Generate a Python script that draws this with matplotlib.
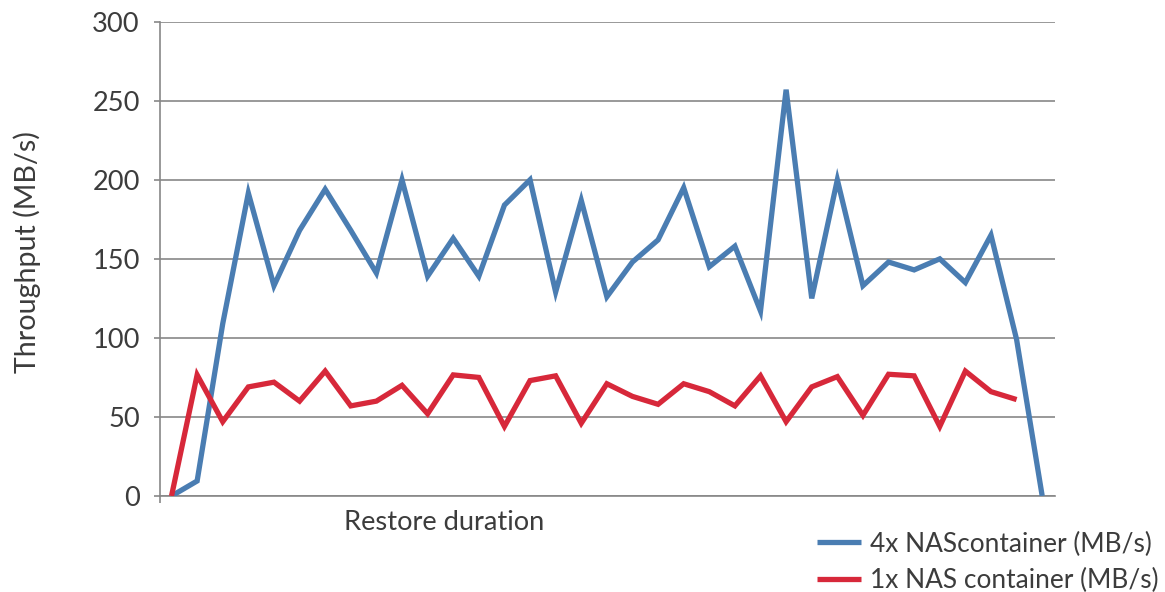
import matplotlib
matplotlib.use("Agg")
import matplotlib.pyplot as plt
from matplotlib.lines import Line2D

# Throughput samples over the restore run (MB/s)
nas4_throughput = [0, 9.5, 109, 191.6, 133, 168, 194, 168, 141, 200, 139, 163, 139,
                   184, 200, 129, 187, 126, 148, 162, 195, 145, 158, 117, 257, 125,
                   200, 133, 148, 143, 150, 135, 165, 99, 0]
nas1_throughput = [0, 76.6, 47, 69, 72, 60, 79, 57, 60, 70, 52, 76.6, 75, 44, 73, 76,
                   46, 71, 63, 58, 71, 66, 57, 76, 47, 69, 75.5, 51, 77, 76, 44, 79,
                   66, 61]
series_labels = ["4x NAScontainer (MB/s)", "1x NAS container (MB/s)"]
y_ticks = [0, 50, 100, 150, 200, 250, 300]

BLUE = "#4A7DB2"
RED = "#D7283A"
GRID = "#878787"
TEXT = "#3C3C3C"
FONT = "Lato"
FS = 19.6
LEG_FS = 18.9
LW = 3.8

plt.rcParams["font.family"] = [FONT, "DejaVu Sans"]

W, H = 1165, 592
fig = plt.figure(figsize=(W / 100, H / 100), dpi=100)
fig.patch.set_facecolor("white")

ax_left, ax_right, ax_top, ax_bot = 160, 1055, 21.7, 496
ax = fig.add_axes([ax_left / W, (H - ax_bot) / H,
                   (ax_right - ax_left) / W, (ax_bot - ax_top) / H])

x4 = list(range(len(nas4_throughput)))
x1 = list(range(len(nas1_throughput)))
ax.plot(x4, nas4_throughput, color=BLUE, lw=LW, solid_joinstyle="miter",
        solid_capstyle="butt", zorder=3, label=series_labels[0])
ax.plot(x1, nas1_throughput, color=RED, lw=LW, solid_joinstyle="miter",
        solid_capstyle="butt", zorder=3, label=series_labels[1])

ax.set_xlim(-0.45, 34.5)
ax.set_ylim(0, 300)
ax.set_yticks(y_ticks)
ax.set_yticklabels([str(v) for v in y_ticks])
ax.yaxis.grid(True, color=GRID, lw=1.2)
ax.set_axisbelow(True)

for side in ("top", "right"):
    ax.spines[side].set_visible(False)
ax.spines["left"].set_color(GRID)
ax.spines["left"].set_linewidth(1.2)
ax.spines["bottom"].set_color(GRID)
ax.spines["bottom"].set_linewidth(1.2)

ax.tick_params(axis="y", direction="out", length=4, width=1.2, color=GRID,
               pad=10.5, labelsize=FS, labelcolor=TEXT)
ax.set_xticks([-0.45])
ax.set_xticklabels([""])
ax.tick_params(axis="x", direction="out", length=5, width=1.2, color=GRID)

fig.text(444.5 / W, (H - 530) / H, "Restore duration", ha="center",
         va="baseline", fontsize=FS, color=TEXT)
fig.text(27 / W, (H - 252) / H, "Throughput (MB/s)", ha="center",
         va="center", rotation=90, fontsize=20.6, color=TEXT)

handles = [Line2D([], [], color=BLUE, lw=LW, solid_capstyle="butt"),
           Line2D([], [], color=RED, lw=LW, solid_capstyle="butt")]
fig.legend(handles, series_labels, loc="center left",
           bbox_to_anchor=(817 / W, (H - 562.5) / H), frameon=False,
           fontsize=LEG_FS, labelcolor=TEXT, handlelength=1.67, handletextpad=0.34,
           borderpad=0, borderaxespad=0, labelspacing=0.45)

fig.savefig("out.png", dpi=100, facecolor="white")
